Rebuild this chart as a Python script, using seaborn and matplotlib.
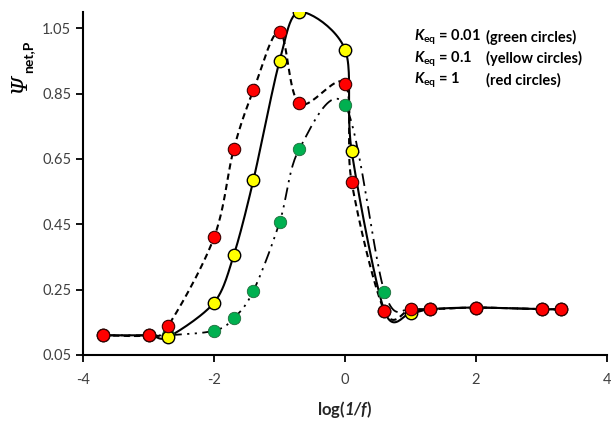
import numpy as np
import pandas as pd
import matplotlib
matplotlib.use("Agg")
import matplotlib.pyplot as plt
import seaborn as sns

# ---------------- data ----------------
x_vals = [-3.7, -3.0, -2.7, -2.0, -1.7, -1.4, -1.0, -0.7, 0.0, 0.1, 0.6, 1.0, 1.3, 2.0, 3.0, 3.3]
psi_red = [0.11, 0.11, 0.14, 0.41, 0.68, 0.86, 1.04, 0.82, 0.88, 0.58, 0.185, 0.19, 0.19, 0.195, 0.19, 0.19]
psi_yellow = [0.11, 0.11, 0.105, 0.21, 0.355, 0.585, 0.95, 1.10, 0.985, 0.675, 0.185, 0.178, 0.19, 0.195, 0.19, 0.19]
x_green = [-3.7, -3.0, -2.7, -2.0, -1.7, -1.4, -1.0, -0.7, 0.0, 0.6, 1.0, 1.3, 2.0, 3.0, 3.3]
psi_green = [0.11, 0.11, 0.11, 0.124, 0.162, 0.246, 0.456, 0.68, 0.815, 0.244, 0.19, 0.19, 0.195, 0.19, 0.19]
x_ticks = [-4, -2, 0, 2, 4]
y_ticks = [0.05, 0.25, 0.45, 0.65, 0.85, 1.05]
legend_lines = [("0.01", "(green circles)"), ("0.1", "(yellow circles)"), ("1", "(red circles)")]


def smooth(xs, ys, n=24, k=1 / 6.0):
    """Excel-like smoothed line (Catmull-Rom as cubic Bezier)."""
    P = np.column_stack([xs, ys]).astype(float)
    m = len(P)
    out = []
    for i in range(m - 1):
        p0 = P[i - 1] if i > 0 else P[i]
        p1 = P[i]
        p2 = P[i + 1]
        p3 = P[i + 2] if i + 2 < m else P[i + 1]
        c1 = p1 + (p2 - p0) * k
        c2 = p2 - (p3 - p1) * k
        t = np.linspace(0, 1, n, endpoint=(i == m - 2))[:, None]
        seg = ((1 - t) ** 3) * p1 + 3 * ((1 - t) ** 2) * t * c1 + 3 * (1 - t) * t ** 2 * c2 + t ** 3 * p2
        out.append(seg)
    pts = np.vstack(out)
    return pd.DataFrame({"x": pts[:, 0], "y": pts[:, 1]})


sns.set_theme(style="white")
plt.rcParams["font.family"] = ["Lato", "DejaVu Sans"]
plt.rcParams["mathtext.fontset"] = "custom"
plt.rcParams["mathtext.rm"] = "Lato"
plt.rcParams["mathtext.it"] = "Lato:italic"
plt.rcParams["mathtext.bf"] = "Lato:bold"
plt.rcParams["mathtext.bfit"] = "Lato:italic:bold"

fig = plt.figure(figsize=(6.11, 4.21), dpi=100)
ax = fig.add_axes([0.136, 0.157, 0.8575, 0.8145])

# lines
sg = smooth(x_green, psi_green)
sy = smooth(x_vals, psi_yellow, k=0.15)
sr = smooth(x_vals, psi_red)
sns.lineplot(data=sg, x="x", y="y", sort=False, ax=ax, color="black", lw=1.3, estimator=None)
ax.lines[-1].set_dashes([7, 3, 1.2, 3, 1.2, 3])
sns.lineplot(data=sy, x="x", y="y", sort=False, ax=ax, color="black", lw=1.5, estimator=None)
sns.lineplot(data=sr, x="x", y="y", sort=False, ax=ax, color="black", lw=1.5, estimator=None)
ax.lines[-1].set_dashes([3, 2])

# markers
sns.scatterplot(x=x_green, y=psi_green, ax=ax, s=80, color="#00B050", edgecolor="#1d6b3a", linewidth=0.6, zorder=3)
sns.scatterplot(x=x_vals, y=psi_yellow, ax=ax, s=80, color="#FFFF00", edgecolor="black", linewidth=1.0, zorder=4)
sns.scatterplot(x=x_vals, y=psi_red, ax=ax, s=80, color="#FF0000", edgecolor="#3a0000", linewidth=0.8, zorder=5)

ax.set_xlim(-4, 4)
ax.set_ylim(0.05, 1.10)
ax.set_xticks(x_ticks)
ax.set_yticks(y_ticks)
ax.set_xticklabels([str(v) for v in x_ticks])
ax.set_yticklabels([f"{v:.2f}" for v in y_ticks])
ax.tick_params(axis="both", direction="out", length=5, width=1.3, color="black",
               labelsize=10.5, labelcolor="#404040", bottom=True, left=True)
ax.tick_params(axis="x", pad=8)
for s in ["top", "right"]:
    ax.spines[s].set_visible(False)
for s in ["left", "bottom"]:
    ax.spines[s].set_color("black")
    ax.spines[s].set_linewidth(1.5)

ax.set_xlabel(r"log($\mathbfit{1/f}$)", fontsize=12, fontweight="bold", color="#262626")
ax.xaxis.set_label_coords(0.5, -0.13)
ax.set_ylabel("")

# y label: italic Psi with bold subscript
fig.text(20 / 611, 1 - 83 / 421, "Ψ", rotation=90, fontsize=16, family="DejaVu Serif",
         style="italic", ha="center", va="center", color="black")
fig.text(28 / 611, 1 - 57 / 421, "net,P", rotation=90, fontsize=10, fontweight="bold",
         ha="center", va="center", color="black")

ys = [0.912, 0.860, 0.808]
for (k, note), yy in zip(legend_lines, ys):
    fig.text(0.678, yy, r"$\mathbfit{K}_{\mathbf{eq}}$ = " + k, fontsize=10.5, fontweight="bold",
             ha="left", va="center", color="black")
    fig.text(0.795, yy, note, fontsize=10.5, fontweight="bold", ha="left", va="center", color="black")

ax.set_facecolor("white")
fig.patch.set_facecolor("white")
fig.savefig("out.png", dpi=100)
